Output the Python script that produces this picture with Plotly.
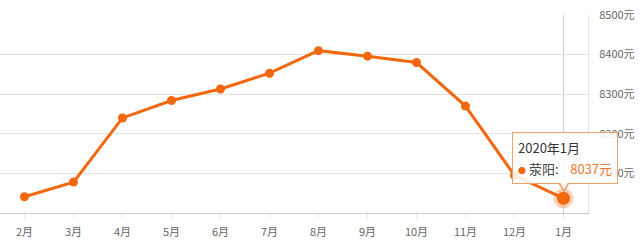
import plotly.graph_objects as go

months = ["2月", "3月", "4月", "5月", "6月", "7月", "8月", "9月", "10月", "11月", "12月", "1月"]
prices = [8041, 8078, 8240, 8284, 8313, 8353, 8410, 8396, 8380, 8270, 8095, 8037]
y_ticks = [8100, 8200, 8300, 8400, 8500]
y_range = [8000, 8500]
tip_title = "2020年1月"
tip_name = "荥阳"

ORANGE = "#f1680f"
BORDER = "#f0a06a"
FONT = "Noto Sans CJK SC"

fig = go.Figure()

fig.add_trace(go.Scatter(
    x=months, y=prices, mode="lines+markers",
    line=dict(color=ORANGE, width=3),
    marker=dict(color=ORANGE, size=9),
    hoverinfo="skip", showlegend=False,
))
# highlighted last point with halo
fig.add_trace(go.Scatter(
    x=[months[-1]], y=[prices[-1]], mode="markers",
    marker=dict(color="rgba(241,104,15,0.3)", size=20),
    hoverinfo="skip", showlegend=False,
))
fig.add_trace(go.Scatter(
    x=[months[-1]], y=[prices[-1]], mode="markers",
    marker=dict(color=ORANGE, size=13),
    hoverinfo="skip", showlegend=False,
))

# axis pointer line
fig.add_shape(type="line", xref="x", yref="paper", x0=months[-1], x1=months[-1],
              y0=0, y1=1, line=dict(color="#cfcfcf", width=1), layer="below")

# tooltip box
tip_text = (f"<span style='font-size:13px;color:#333'>{tip_title}</span><br>"
            f"<span style='color:{ORANGE};font-size:8px'>●</span>"
            f"<span style='font-size:13px;color:#444'> {tip_name}:</span>"
            f"<span style='font-size:13px'>&nbsp;&nbsp;&nbsp;&nbsp;</span>"
            f"<span style='font-size:13px;color:#ec7a35'>{prices[-1]}元</span>")
fig.add_annotation(
    x=months[-1], y=prices[-1], xref="x", yref="y",
    text=tip_text, showarrow=False, align="left",
    xanchor="center", yanchor="bottom", yshift=14, xshift=1,
    font=dict(family=FONT, size=16, color="#333"),
    bgcolor="rgba(255,255,255,0.88)", bordercolor=BORDER, borderwidth=1,
    borderpad=5,
)
# tooltip pointer triangle (outlined)
fig.add_annotation(
    x=months[-1], y=prices[-1], xref="x", yref="y", text="▼", showarrow=False,
    xanchor="center", yanchor="middle", yshift=12,
    font=dict(size=12, color=BORDER),
)
fig.add_annotation(
    x=months[-1], y=prices[-1], xref="x", yref="y", text="▼", showarrow=False,
    xanchor="center", yanchor="middle", yshift=14,
    font=dict(size=10, color="white"),
)

fig.update_layout(
    width=640, height=245,
    margin=dict(l=0, r=52, t=15, b=32),
    paper_bgcolor="white", plot_bgcolor="white",
    font=dict(family=FONT, size=11, color="#666"),
    xaxis=dict(
        type="category", showgrid=False, showline=True, linecolor="#cccccc",
        linewidth=1, ticks="outside", ticklen=4, tickcolor="#e6e6e6",
        ticklabelstandoff=5,
        tickfont=dict(size=11, color="#666"), fixedrange=True,
        range=[-0.5, len(months) - 0.5],
    ),
    yaxis=dict(
        side="right", range=y_range, tickvals=y_ticks,
        ticktext=[f"{v}元" for v in y_ticks],
        showgrid=True, gridcolor="#e3e3e3", gridwidth=1,
        showline=True, linecolor="#e3e3e3", mirror=False,
        zeroline=False, ticks="", ticklabelstandoff=8,
        tickfont=dict(size=11, color="#666"),
    ),
)

fig.write_html("out.html")
